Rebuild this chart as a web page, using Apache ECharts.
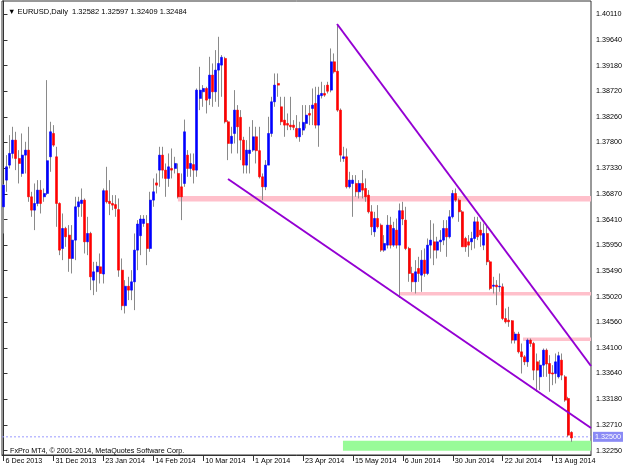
<!DOCTYPE html>
<html><head><meta charset="utf-8">
<script src="https://cdn.jsdelivr.net/npm/echarts@6/dist/echarts.min.js"></script>
<style>html,body{margin:0;padding:0;background:#fff}#c{width:625px;height:469px}</style>
</head><body><div id="c"></div>
<script>
// ---- categories (trading days) ----
const firstDay = '2013-12-06', lastDay = '2014-08-21';
const holidays = ['2013-12-25', '2014-01-01'];
const monthNames = ['Jan','Feb','Mar','Apr','May','Jun','Jul','Aug','Sep','Oct','Nov','Dec'];
const categories = [];
for (let d = new Date(firstDay + 'T12:00:00Z'); d <= new Date(lastDay + 'T12:00:00Z'); d.setUTCDate(d.getUTCDate() + 1)) {
  const wd = d.getUTCDay(), iso = d.toISOString().slice(0, 10);
  if (wd === 0 || wd === 6 || holidays.includes(iso)) continue;
  categories.push(d.getUTCDate() + ' ' + monthNames[d.getUTCMonth()] + ' ' + d.getUTCFullYear());
}

// ---- OHLC ----
const opens = [1.3664,1.3712,1.3739,1.3760,1.3784,1.3751,1.3724,1.3757,1.3766,1.3682,1.3658,1.3670,1.3694,1.3682,1.3688,1.3754,1.3796,1.3754,1.3670,1.3589,1.3625,1.3613,1.3571,1.3604,1.3664,1.3670,1.3676,1.3601,1.3616,1.3532,1.3547,1.3556,1.3543,1.3693,1.3674,1.3670,1.3668,1.3659,1.3550,1.3486,1.3521,1.3514,1.3529,1.3586,1.3612,1.3634,1.3634,1.3589,1.3676,1.3707,1.3730,1.3757,1.3730,1.3715,1.3733,1.3733,1.3724,1.3700,1.3706,1.3757,1.3733,1.3740,1.3730,1.3859,1.3871,1.3877,1.3859,1.3901,1.3871,1.3910,1.3919,1.3931,1.3817,1.3778,1.3796,1.3838,1.3825,1.3784,1.3739,1.3760,1.3766,1.3790,1.3765,1.3718,1.3700,1.3739,1.3796,1.3853,1.3886,1.3844,1.3820,1.3814,1.3811,1.3811,1.3805,1.3790,1.3802,1.3814,1.3832,1.3841,1.3850,1.3811,1.3864,1.3868,1.3883,1.3874,1.3925,1.3908,1.3838,1.3751,1.3754,1.3700,1.3706,1.3706,1.3691,1.3706,1.3697,1.3685,1.3655,1.3619,1.3643,1.3631,1.3586,1.3595,1.3631,1.3595,1.3622,1.3595,1.3657,1.3640,1.3589,1.3544,1.3529,1.3553,1.3541,1.3568,1.3544,1.3595,1.3601,1.3586,1.3601,1.3604,1.3625,1.3610,1.3646,1.3688,1.3676,1.3655,1.3607,1.3601,1.3601,1.3607,1.3637,1.3622,1.3595,1.3616,1.3565,1.3521,1.3523,1.3520,1.3520,1.3463,1.3460,1.3459,1.3424,1.3435,1.3403,1.3394,1.3385,1.3424,1.3418,1.3385,1.3358,1.3379,1.3406,1.3382,1.3365,1.3364,1.3358,1.3388,1.3358,1.3319,1.3258];
const highs = [1.3705,1.3757,1.3793,1.3808,1.3799,1.3766,1.3796,1.3781,1.3808,1.3691,1.3706,1.3712,1.3712,1.3697,1.3892,1.3817,1.3811,1.3772,1.3672,1.3652,1.3628,1.3631,1.3631,1.3682,1.3682,1.3697,1.3679,1.3646,1.3619,1.3565,1.3565,1.3580,1.3697,1.3736,1.3712,1.3685,1.3685,1.3679,1.3571,1.3532,1.3538,1.3550,1.3616,1.3640,1.3649,1.3649,1.3649,1.3691,1.3715,1.3724,1.3772,1.3772,1.3742,1.3760,1.3769,1.3754,1.3742,1.3724,1.3821,1.3766,1.3760,1.3760,1.3877,1.3916,1.3883,1.3880,1.3934,1.3922,1.3946,1.3970,1.3937,1.3934,1.3820,1.3808,1.3874,1.3847,1.3838,1.3790,1.3784,1.3808,1.3820,1.3808,1.3808,1.3724,1.3748,1.3826,1.3862,1.3904,1.3904,1.3862,1.3862,1.3832,1.3862,1.3820,1.3829,1.3817,1.3847,1.3847,1.3847,1.3877,1.3880,1.3880,1.3889,1.3883,1.3889,1.3949,1.3940,1.3991,1.3841,1.3772,1.3769,1.3727,1.3721,1.3721,1.3712,1.3730,1.3715,1.3694,1.3667,1.3655,1.3667,1.3634,1.3613,1.3649,1.3646,1.3637,1.3643,1.3670,1.3673,1.3664,1.3592,1.3556,1.3568,1.3574,1.3586,1.3589,1.3607,1.3640,1.3634,1.3610,1.3622,1.3640,1.3640,1.3658,1.3694,1.3697,1.3679,1.3658,1.3610,1.3613,1.3619,1.3646,1.3646,1.3637,1.3634,1.3631,1.3568,1.3538,1.3532,1.3544,1.3526,1.3481,1.3484,1.3460,1.3439,1.3439,1.3418,1.3397,1.3427,1.3427,1.3421,1.3400,1.3388,1.3409,1.3409,1.3397,1.3379,1.3400,1.3403,1.3400,1.3361,1.3322,1.3260];
const lows = [1.3616,1.3691,1.3733,1.3751,1.3730,1.3706,1.3718,1.3724,1.3673,1.3646,1.3622,1.3665,1.3652,1.3673,1.3685,1.3727,1.3772,1.3628,1.3577,1.3568,1.3592,1.3547,1.3544,1.3568,1.3646,1.3646,1.3580,1.3577,1.3514,1.3505,1.3511,1.3526,1.3526,1.3670,1.3649,1.3658,1.3646,1.3538,1.3478,1.3472,1.3496,1.3496,1.3478,1.3550,1.3577,1.3628,1.3559,1.3583,1.3664,1.3688,1.3700,1.3715,1.3682,1.3700,1.3715,1.3724,1.3679,1.3640,1.3700,1.3718,1.3718,1.3706,1.3718,1.3838,1.3844,1.3832,1.3847,1.3844,1.3853,1.3844,1.3862,1.3814,1.3748,1.3760,1.3778,1.3760,1.3748,1.3724,1.3724,1.3724,1.3763,1.3742,1.3715,1.3676,1.3694,1.3739,1.3790,1.3844,1.3862,1.3811,1.3790,1.3802,1.3802,1.3802,1.3787,1.3781,1.3793,1.3805,1.3811,1.3811,1.3805,1.3772,1.3859,1.3862,1.3868,1.3870,1.3904,1.3835,1.3745,1.3745,1.3697,1.3697,1.3646,1.3682,1.3679,1.3679,1.3673,1.3652,1.3613,1.3610,1.3625,1.3583,1.3583,1.3589,1.3589,1.3592,1.3589,1.3500,1.3631,1.3586,1.3529,1.3511,1.3508,1.3529,1.3511,1.3538,1.3541,1.3571,1.3559,1.3571,1.3583,1.3595,1.3574,1.3607,1.3643,1.3673,1.3637,1.3592,1.3583,1.3574,1.3586,1.3589,1.3604,1.3592,1.3586,1.3559,1.3514,1.3508,1.3487,1.3511,1.3460,1.3454,1.3448,1.3418,1.3418,1.3400,1.3364,1.3379,1.3376,1.3412,1.3352,1.3331,1.3334,1.3358,1.3358,1.3331,1.3343,1.3346,1.3355,1.3352,1.3313,1.3250,1.3241];
const closes = [1.3703,1.3736,1.3760,1.3784,1.3751,1.3742,1.3757,1.3766,1.3682,1.3658,1.3670,1.3694,1.3670,1.3688,1.3747,1.3799,1.3775,1.3670,1.3586,1.3625,1.3610,1.3571,1.3604,1.3664,1.3673,1.3676,1.3601,1.3616,1.3538,1.3547,1.3557,1.3544,1.3693,1.3673,1.3670,1.3667,1.3661,1.3550,1.3486,1.3521,1.3514,1.3529,1.3586,1.3633,1.3642,1.3642,1.3589,1.3676,1.3691,1.3703,1.3757,1.3730,1.3715,1.3736,1.3730,1.3742,1.3682,1.3682,1.3799,1.3733,1.3742,1.3730,1.3874,1.3874,1.3877,1.3856,1.3901,1.3871,1.3910,1.3922,1.3933,1.3817,1.3778,1.3791,1.3838,1.3808,1.3784,1.3739,1.3766,1.3766,1.3790,1.3765,1.3718,1.3700,1.3739,1.3796,1.3853,1.3883,1.3883,1.3817,1.3811,1.3811,1.3808,1.3807,1.3790,1.3805,1.3816,1.3829,1.3829,1.3847,1.3811,1.3865,1.3868,1.3865,1.3872,1.3925,1.3907,1.3838,1.3757,1.3754,1.3700,1.3712,1.3712,1.3691,1.3706,1.3694,1.3682,1.3655,1.3628,1.3643,1.3628,1.3586,1.3598,1.3631,1.3595,1.3625,1.3595,1.3657,1.3642,1.3589,1.3544,1.3529,1.3547,1.3544,1.3568,1.3544,1.3595,1.3604,1.3586,1.3601,1.3604,1.3625,1.3610,1.3646,1.3688,1.3676,1.3655,1.3592,1.3592,1.3595,1.3607,1.3637,1.3610,1.3613,1.3616,1.3565,1.3517,1.3523,1.3520,1.3521,1.3463,1.3457,1.3457,1.3424,1.3435,1.3403,1.3394,1.3385,1.3424,1.3418,1.3370,1.3370,1.3379,1.3406,1.3381,1.3364,1.3363,1.3385,1.3396,1.3361,1.3316,1.3253,1.3248];

// ---- axis tick labels ----
const xTickLabels = ['6 Dec 2013','31 Dec 2013','23 Jan 2014','14 Feb 2014','10 Mar 2014','1 Apr 2014','23 Apr 2014','15 May 2014','6 Jun 2014','30 Jun 2014','22 Jul 2014','13 Aug 2014'];
const yTickValues = [1.40110,1.39640,1.39180,1.38720,1.38260,1.37800,1.37330,1.36870,1.36410,1.35950,1.35490,1.35020,1.34560,1.34100,1.33640,1.33180,1.32710,1.32250];

// ---- chart objects (bar index, price) ----
const pinkZoneStart = [55.9, 127.1, 166.5];
const pinkZoneLow   = [1.36735, 1.35043, 1.34224];
const pinkZoneHigh  = [1.36834, 1.35106, 1.34287];
const greenZone = [108.8, 1.32250, 1.32430];
const upperTrend = [[106.9, 1.39930], [188.3, 1.33775]];
const lowerTrend = [[71.96, 1.37140], [188.3, 1.32659]];
const priceLevel = 1.32500;
const headerText = '\u25BC EURUSD,Daily  1.32582 1.32597 1.32409 1.32484';
const footerText = 'FxPro MT4, \u00A9 2001-2014, MetaQuotes Software Corp.';

const xMin = -0.48, xMax = 188.3, yMin = 1.32173, yMax = 1.40344;
const FONT = '"Liberation Sans", Arial, sans-serif';

const tickIdx = xTickLabels.map(l => categories.indexOf(l));
const wickData = categories.map((c, i) => [i, opens[i], closes[i], lows[i], highs[i]]);
const bodyData = categories.map((c, i) => [i, opens[i], closes[i], Math.min(opens[i], closes[i]), Math.max(opens[i], closes[i])]);

const pinkAreas = pinkZoneStart.map((s, i) => [{coord: [s, pinkZoneLow[i]]}, {coord: [xMax, pinkZoneHigh[i]]}]);

const chart = echarts.init(document.getElementById('c'), null, {renderer: 'canvas'});
chart.setOption({
  animation: false,
  backgroundColor: '#fff',
  textStyle: {fontFamily: FONT},
  title: [
    {text: headerText, left: 3, top: 3, textStyle: {fontSize: 7.5, fontWeight: 'normal', color: '#000', fontFamily: FONT}},
    {text: footerText, left: 5, top: 443, textStyle: {fontSize: 7.2, fontWeight: 'normal', color: '#000', fontFamily: FONT}}
  ],
  grid: {left: 2, right: 34, top: 1, bottom: 14, show: true, borderColor: '#333', borderWidth: 1, backgroundColor: 'transparent'},
  xAxis: {
    type: 'value', min: xMin, max: xMax,
    axisLine: {show: true, onZero: false, lineStyle: {color: '#333', width: 1}},
    axisTick: {show: true, length: 6, customValues: tickIdx, lineStyle: {color: '#333'}},
    axisLabel: {show: true, customValues: tickIdx, formatter: v => categories[Math.round(v)], align: 'left', margin: 3, padding: [0, 0, 0, 2], fontSize: 7.2, color: '#000', fontFamily: FONT},
    splitLine: {show: false}
  },
  yAxis: {
    type: 'value', position: 'right', min: yMin, max: yMax,
    axisLine: {show: true, lineStyle: {color: '#333', width: 1}},
    axisTick: {show: true, length: 4, customValues: yTickValues, lineStyle: {color: '#333'}},
    axisLabel: {show: true, customValues: yTickValues, formatter: v => v.toFixed(5), margin: 5, fontSize: 7.2, color: '#000', fontFamily: FONT},
    splitLine: {show: false}
  },
  series: [
    {
      type: 'candlestick', name: 'wick', data: wickData, encode: {x: 0, y: [1, 2, 3, 4]},
      barWidth: 1, z: 3,
      itemStyle: {color: '#8a8a8a', color0: '#8a8a8a', borderColor: '#8a8a8a', borderColor0: '#8a8a8a', borderWidth: 1},
      markArea: {silent: true, z: 1, itemStyle: {color: '#ffc0cb'}, data: pinkAreas.concat([[{coord: [greenZone[0], greenZone[1]], itemStyle: {color: '#98fb98'}}, {coord: [xMax, greenZone[2]]}]])}
    },
    {
      type: 'candlestick', name: 'body', data: bodyData, encode: {x: 0, y: [1, 2, 3, 4]},
      barWidth: 2.5, z: 4,
      itemStyle: {color: '#0000ff', color0: '#ff0000', borderColor: '#0000ff', borderColor0: '#ff0000', borderWidth: 0.6}
    },
    {type: 'line', data: upperTrend, symbol: 'none', z: 5, lineStyle: {color: '#9400d3', width: 2}},
    {type: 'line', data: lowerTrend, symbol: 'none', z: 5, lineStyle: {color: '#9400d3', width: 2}},
    {type: 'line', name: 'price', data: [[xMin, priceLevel], [xMax, priceLevel]], symbol: 'none', z: 2, clip: false,
      lineStyle: {color: '#9a9aff', type: [2, 2], width: 1},
      endLabel: {show: true, formatter: priceLevel.toFixed(5), distance: 2, fontSize: 7.2, color: '#fff', backgroundColor: '#8a8af5', padding: [2, 2, 1, 2], fontFamily: FONT}}
  ]
});
</script>
</body></html>
